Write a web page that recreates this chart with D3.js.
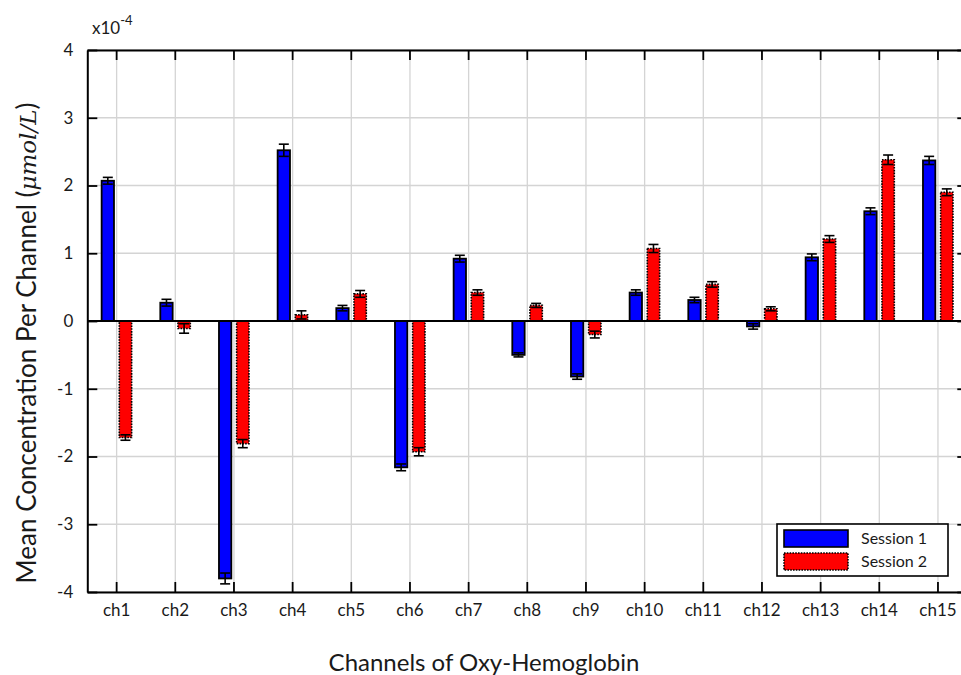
<!DOCTYPE html>
<html>
<head>
<meta charset="utf-8">
<script src="https://cdn.jsdelivr.net/npm/d3@7"></script>
<style>
  body { margin: 0; background: #fff; }
  svg { display: block; font-family: Lato, "Open Sans", sans-serif; }
</style>
</head>
<body>
<div id="chart"></div>
<script>
// channels and the two session means (units of 1e-4 umol/L), with error bar half-heights
const channels = ["ch1","ch2","ch3","ch4","ch5","ch6","ch7","ch8","ch9","ch10","ch11","ch12","ch13","ch14","ch15"];
const session1 = [2.07, 0.27, -3.80, 2.52, 0.19, -2.16, 0.92, -0.50, -0.82, 0.42, 0.31, -0.08, 0.94, 1.62, 2.37];
const session2 = [-1.72, -0.11, -1.81, 0.09, 0.40, -1.93, 0.42, 0.23, -0.20, 1.07, 0.54, 0.18, 1.21, 2.38, 1.90];
const err1 = [0.05, 0.05, 0.08, 0.09, 0.04, 0.05, 0.05, 0.03, 0.04, 0.04, 0.04, 0.04, 0.05, 0.05, 0.06];
const err2 = [0.04, 0.07, 0.06, 0.06, 0.05, 0.06, 0.04, 0.03, 0.05, 0.06, 0.04, 0.03, 0.05, 0.07, 0.05];
const sessions = ["Session 1", "Session 2"];
const yTicks = [-4, -3, -2, -1, 0, 1, 2, 3, 4];

const width = 961, height = 675;
const plotLeft = 87.3, plotRight = 967.3, plotTop = 50, plotBottom = 592;

const svg = d3.select("#chart").append("svg")
    .attr("width", width)
    .attr("height", height);

const x = d3.scaleBand().domain(channels).range([plotLeft, plotRight]).padding(0);
const bw = x.bandwidth();
const xSub = d3.scaleBand().domain(sessions)
    .range([bw / 2 - 15, bw / 2 + 15])
    .paddingInner(0.3);
const y = d3.scaleLinear().domain([-4, 4]).range([plotBottom, plotTop]);

// grid
const grid = svg.append("g").attr("stroke", "#d4d4d4").attr("stroke-width", 1.3);
grid.selectAll(".gx").data(channels).enter().append("line")
    .attr("x1", d => x(d) + bw / 2).attr("x2", d => x(d) + bw / 2)
    .attr("y1", plotTop).attr("y2", plotBottom);
grid.selectAll(".gy").data(yTicks).enter().append("line")
    .attr("x1", plotLeft).attr("x2", plotRight)
    .attr("y1", d => y(d)).attr("y2", d => y(d));

// bars
const rows = channels.map((c, i) => [
  {ch: c, s: sessions[0], v: session1[i], e: err1[i]},
  {ch: c, s: sessions[1], v: session2[i], e: err2[i]}
]).flat();

const bars = svg.append("g");
bars.selectAll("rect").data(rows).enter().append("rect")
    .attr("x", d => x(d.ch) + xSub(d.s))
    .attr("width", xSub.bandwidth())
    .attr("y", d => y(Math.max(0, d.v)))
    .attr("height", d => Math.abs(y(d.v) - y(0)))
    .attr("fill", d => d.s === sessions[0] ? "#0000ff" : "#ff0000")
    .attr("stroke", "#000")
    .attr("stroke-width", d => d.s === sessions[0] ? 1.8 : 1.6)
    .attr("stroke-dasharray", d => d.s === sessions[0] ? null : "1.6,1.2");

// error bars
const eb = svg.append("g").attr("stroke", "#000").attr("stroke-width", 1.6);
const cx = d => x(d.ch) + xSub(d.s) + xSub.bandwidth() / 2;
eb.selectAll(".ev").data(rows).enter().append("line")
    .attr("x1", cx).attr("x2", cx)
    .attr("y1", d => y(d.v - d.e)).attr("y2", d => y(d.v + d.e));
eb.selectAll(".et").data(rows).enter().append("line")
    .attr("x1", d => cx(d) - 5).attr("x2", d => cx(d) + 5)
    .attr("y1", d => y(d.v + d.e)).attr("y2", d => y(d.v + d.e));
eb.selectAll(".eb").data(rows).enter().append("line")
    .attr("x1", d => cx(d) - 5).attr("x2", d => cx(d) + 5)
    .attr("y1", d => y(d.v - d.e)).attr("y2", d => y(d.v - d.e));

// zero line
svg.append("line")
    .attr("x1", plotLeft).attr("x2", plotRight)
    .attr("y1", y(0)).attr("y2", y(0))
    .attr("stroke", "#000").attr("stroke-width", 1.8);

// axes
const axisStyle = g => {
  g.select(".domain").attr("stroke", "#000").attr("stroke-width", 2);
  g.selectAll(".tick line").attr("stroke", "#000").attr("stroke-width", 1.8);
  g.selectAll("text").attr("fill", "#1a1a1a").style("font-size", "17px")
    .style("font-family", "Lato, 'Open Sans', sans-serif");
};

svg.append("g")
    .attr("transform", `translate(0,${plotBottom})`)
    .call(d3.axisBottom(x).tickSizeInner(-10).tickSizeOuter(0).tickPadding(12))
    .call(axisStyle);
svg.append("g")
    .attr("transform", `translate(0,${plotTop})`)
    .call(d3.axisTop(x).tickSizeInner(-10).tickSizeOuter(0).tickFormat(""))
    .call(axisStyle);
svg.append("g")
    .attr("transform", `translate(${plotLeft},0)`)
    .call(d3.axisLeft(y).tickValues(yTicks).tickFormat(d => String(d))
      .tickSizeInner(-10).tickSizeOuter(0).tickPadding(14))
    .call(axisStyle);
svg.append("g")
    .attr("transform", `translate(${plotRight},0)`)
    .call(d3.axisRight(y).tickValues(yTicks).tickSizeInner(-10).tickSizeOuter(0).tickFormat(""))
    .call(axisStyle);

// exponent label
const ex = svg.append("text").attr("x", 92).attr("y", 34)
    .style("font-size", "17px").attr("fill", "#1a1a1a");
ex.append("tspan").text("x10");
ex.append("tspan").attr("dy", -9).style("font-size", "13px").text("-4");

// axis titles
const yl = svg.append("text")
    .attr("transform", `translate(36,${(plotTop + plotBottom) / 2 + 22}) rotate(-90)`)
    .attr("text-anchor", "middle")
    .style("font-size", "26px").attr("fill", "#1a1a1a");
yl.append("tspan").text("Mean Concentration Per Channel (");
yl.append("tspan").style("font-family", "'DejaVu Serif', serif").style("font-style", "italic")
    .style("font-size", "23px").text("\u03bcmol/L");
yl.append("tspan").text(")");

svg.append("text")
    .attr("x", 484).attr("y", 671)
    .attr("text-anchor", "middle")
    .style("font-size", "24px").attr("fill", "#1a1a1a")
    .text("Channels of Oxy-Hemoglobin");

// legend
const lg = svg.append("g").attr("transform", "translate(777,524)");
lg.append("rect").attr("width", 171).attr("height", 52)
    .attr("fill", "#fff").attr("stroke", "#000").attr("stroke-width", 1.6);
const li = lg.selectAll(".li").data(sessions).enter().append("g")
    .attr("transform", (d, i) => `translate(7,${6 + i * 23})`);
li.append("rect").attr("width", 64).attr("height", 17)
    .attr("fill", (d, i) => i === 0 ? "#0000ff" : "#ff0000")
    .attr("stroke", "#000").attr("stroke-width", 1.6)
    .attr("stroke-dasharray", (d, i) => i === 0 ? null : "1.6,1.2");
li.append("text").attr("x", 77).attr("y", 14)
    .style("font-size", "16px").attr("fill", "#1a1a1a")
    .text(d => d);
</script>
</body>
</html>
